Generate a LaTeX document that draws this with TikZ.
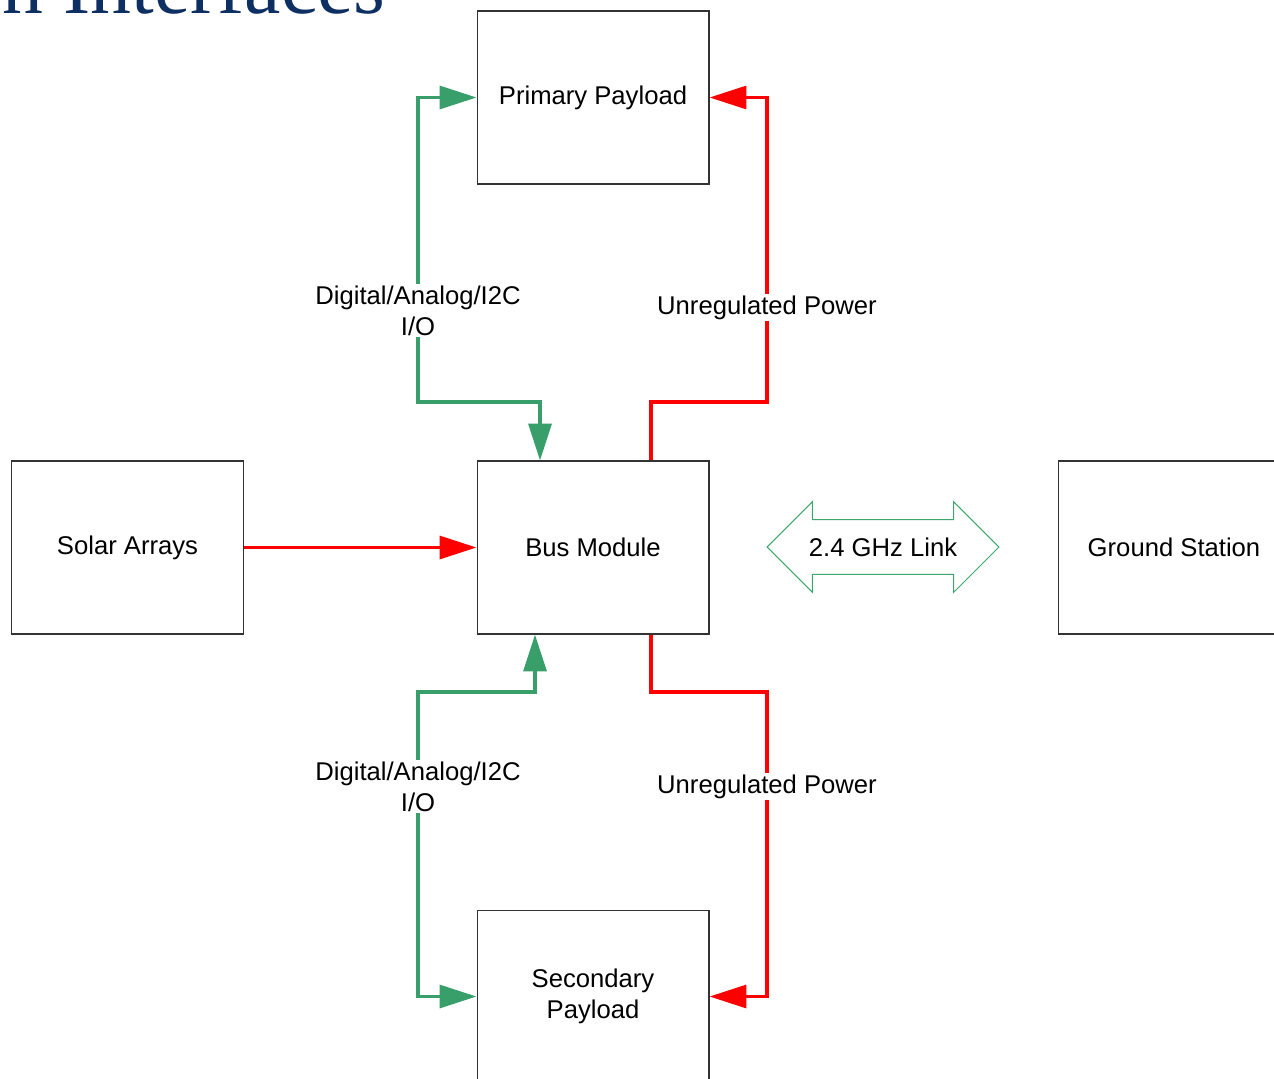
\documentclass[tikz,border=0pt]{standalone}
\usepackage{fontspec}
\setmainfont{Liberation Sans}
\newfontfamily\titlefont{Liberation Serif}
\usetikzlibrary{arrows.meta,shapes.arrows}
\definecolor{iogreen}{RGB}{56,158,106}
\definecolor{linkgreen}{RGB}{60,168,108}
\definecolor{pwrred}{RGB}{255,0,0}
\definecolor{slideblue}{RGB}{13,47,98}

\begin{document}
\begin{tikzpicture}[x=0.02cm,y=-0.02cm,>={Triangle[length=21pt,width=13pt]},
  font=\fontsize{14.6}{17.6}\selectfont,
  box/.style={draw=black!80,line width=0.6pt,minimum width=4.64cm,minimum height=3.46cm,inner sep=0pt,align=center},
  lbl/.style={fill=white,inner sep=1pt,align=center},
  io/.style={draw=iogreen,line width=2.1pt},
  pwr/.style={draw=pwrred,line width=2.1pt},
  link/.style={double arrow,draw=linkgreen,line width=0.6pt,minimum height=4.64cm,minimum width=1.8cm,
    double arrow head extend=0.36cm,inner xsep=2pt,inner ysep=9.9pt}]
\path[use as bounding box,clip] (0,0) rectangle (1274,1078);
\node[anchor=base west,text=slideblue,font=\titlefont\fontsize{46.5}{50}\selectfont] (ttl) at (-4,13.5) {n Interfaces};
\node[box] (pp) at (593,97.5) {Primary Payload};
\node[box] (bus) at (593,547.5) {Bus Module};
\node[box] (sa) at (127.5,547.5) {Solar Arrays};
\node[box] (gs) at (1174,547.5) {Ground Station};
\node[box] (sp) at (593,996.5) {Secondary\\Payload};
\node[link] (lnk) at (883,547) {2.4 GHz Link};
\draw[io,<->] ([xshift=-1.06cm]bus.north) |- (418,402) -- node[lbl,pos=0.3]{Digital/Analog/I2C\\I/O} (418,97.5) -- (pp.west);
\draw[pwr,->] ([xshift=1.16cm]bus.north) |- (767,402) -- node[lbl,pos=0.31]{Unregulated Power} (767,97.5) -- (pp.east);
\draw[pwr,->] (sa) -- (bus);
\draw[io,<->] ([xshift=-1.16cm]bus.south) |- (418,692) -- node[lbl,pos=0.31]{Digital/Analog/I2C\\I/O} (418,996.5) -- (sp.west);
\draw[pwr,->] ([xshift=1.16cm]bus.south) |- (767,692) -- node[lbl,pos=0.31]{Unregulated Power} (767,996.5) -- (sp.east);
\end{tikzpicture}
\end{document}
